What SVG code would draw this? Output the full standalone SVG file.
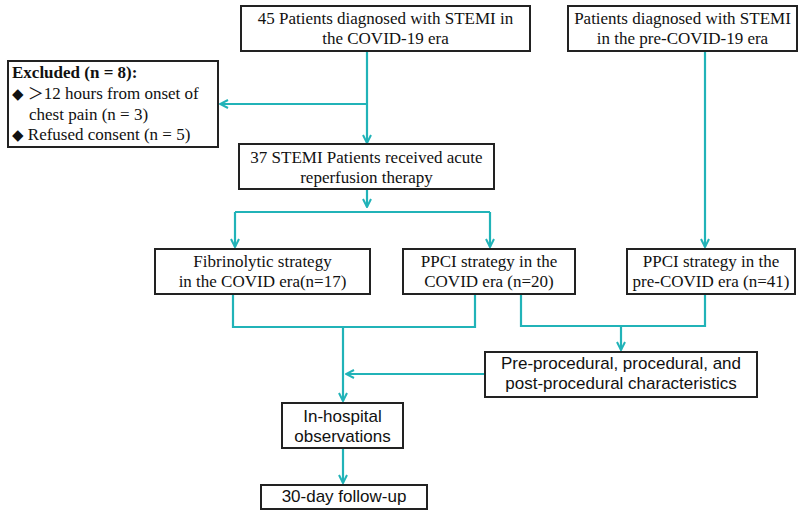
<svg xmlns="http://www.w3.org/2000/svg" width="801" height="510" viewBox="0 0 801 510">
<style>
.box{fill:#fff;stroke:#222;stroke-width:2}
.serif{font-family:"Liberation Serif","Times New Roman",serif;font-size:17px;fill:#111}
.sans{font-family:"Liberation Sans",Arial,sans-serif;font-size:17px;fill:#111}
.mid{text-anchor:middle}
.conn{fill:none;stroke:#21b3b8;stroke-width:2.2}
</style>
<defs>
<marker id="arr" viewBox="0 0 10 10" refX="9" refY="5" markerWidth="10" markerHeight="10" markerUnits="userSpaceOnUse" orient="auto">
<path d="M1,1 L9,5 L1,9" fill="none" stroke="#21b3b8" stroke-width="2"/>
</marker>
</defs>
<g id="connectors" class="conn">
<path d="M367,51 V143" marker-end="url(#arr)"/>
<path d="M367,104 H220" marker-end="url(#arr)"/>
<path d="M367,189 V207" marker-end="url(#arr)"/>
<path d="M235,212 H490"/>
<path d="M235,212 V247" marker-end="url(#arr)"/>
<path d="M490,212 V247" marker-end="url(#arr)"/>
<path d="M705,51 V247" marker-end="url(#arr)"/>
<path d="M233,294 V327 H475 V294"/>
<path d="M343,327 V401" marker-end="url(#arr)"/>
<path d="M521,294 V326 H705 V294"/>
<path d="M621,326 V350" marker-end="url(#arr)"/>
<path d="M485,374 H346" marker-end="url(#arr)"/>
<path d="M343,448 V483" marker-end="url(#arr)"/>
</g>
<g id="covid-patients">
<rect class="box" x="241" y="6" width="289" height="45"/>
<text class="serif mid" x="385.5" y="24">45 Patients diagnosed with STEMI in</text>
<text class="serif mid" x="385.5" y="44">the COVID-19 era</text>
</g>
<g id="precovid-patients">
<rect class="box" x="568" y="6" width="229" height="45"/>
<text class="serif mid" x="682.5" y="24">Patients diagnosed with STEMI</text>
<text class="serif mid" x="682.5" y="44">in the pre-COVID-19 era</text>
</g>
<g id="excluded">
<rect class="box" x="8" y="61" width="210" height="86"/>
<text class="serif" x="12" y="78" font-weight="bold">Excluded (n = 8):</text>
<text class="serif" x="12" y="99"><tspan font-family="DejaVu Sans,sans-serif" font-size="15">◆</tspan> <tspan font-family="'Noto Sans CJK SC',sans-serif" font-size="16">＞</tspan>12 hours from onset of</text>
<text class="serif" x="29" y="120">chest pain (n = 3)</text>
<text class="serif" x="12" y="140"><tspan font-family="DejaVu Sans,sans-serif" font-size="15">◆</tspan> Refused consent (n = 5)</text>
</g>
<g id="reperfusion">
<rect class="box" x="239" y="144" width="255" height="45"/>
<text class="serif mid" x="366.5" y="163">37 STEMI Patients received acute</text>
<text class="serif mid" x="366.5" y="183">reperfusion therapy</text>
</g>
<g id="fibrinolytic">
<rect class="box" x="155" y="249" width="215" height="45"/>
<text class="serif mid" x="262.5" y="267">Fibrinolytic strategy</text>
<text class="serif mid" x="262.5" y="287">in the COVID era(n=17)</text>
</g>
<g id="ppci-covid">
<rect class="box" x="403" y="249" width="172" height="45"/>
<text class="serif mid" x="489" y="267">PPCI strategy in the</text>
<text class="serif mid" x="489" y="287">COVID era (n=20)</text>
</g>
<g id="ppci-precovid">
<rect class="box" x="627" y="249" width="168" height="45"/>
<text class="serif mid" x="711" y="267">PPCI strategy in the</text>
<text class="serif mid" x="711" y="287">pre-COVID era (n=41)</text>
</g>
<g id="characteristics">
<rect class="box" x="485" y="352" width="272" height="45"/>
<text class="sans mid" x="621" y="369">Pre-procedural, procedural, and</text>
<text class="sans mid" x="621" y="389">post-procedural characteristics</text>
</g>
<g id="in-hospital">
<rect class="box" x="282" y="403" width="121" height="45"/>
<text class="sans mid" x="342.5" y="422">In-hospital</text>
<text class="sans mid" x="342.5" y="442">observations</text>
</g>
<g id="follow-up">
<rect class="box" x="261" y="485" width="166" height="24"/>
<text class="sans mid" x="344" y="502">30-day follow-up</text>
</g>
</svg>
